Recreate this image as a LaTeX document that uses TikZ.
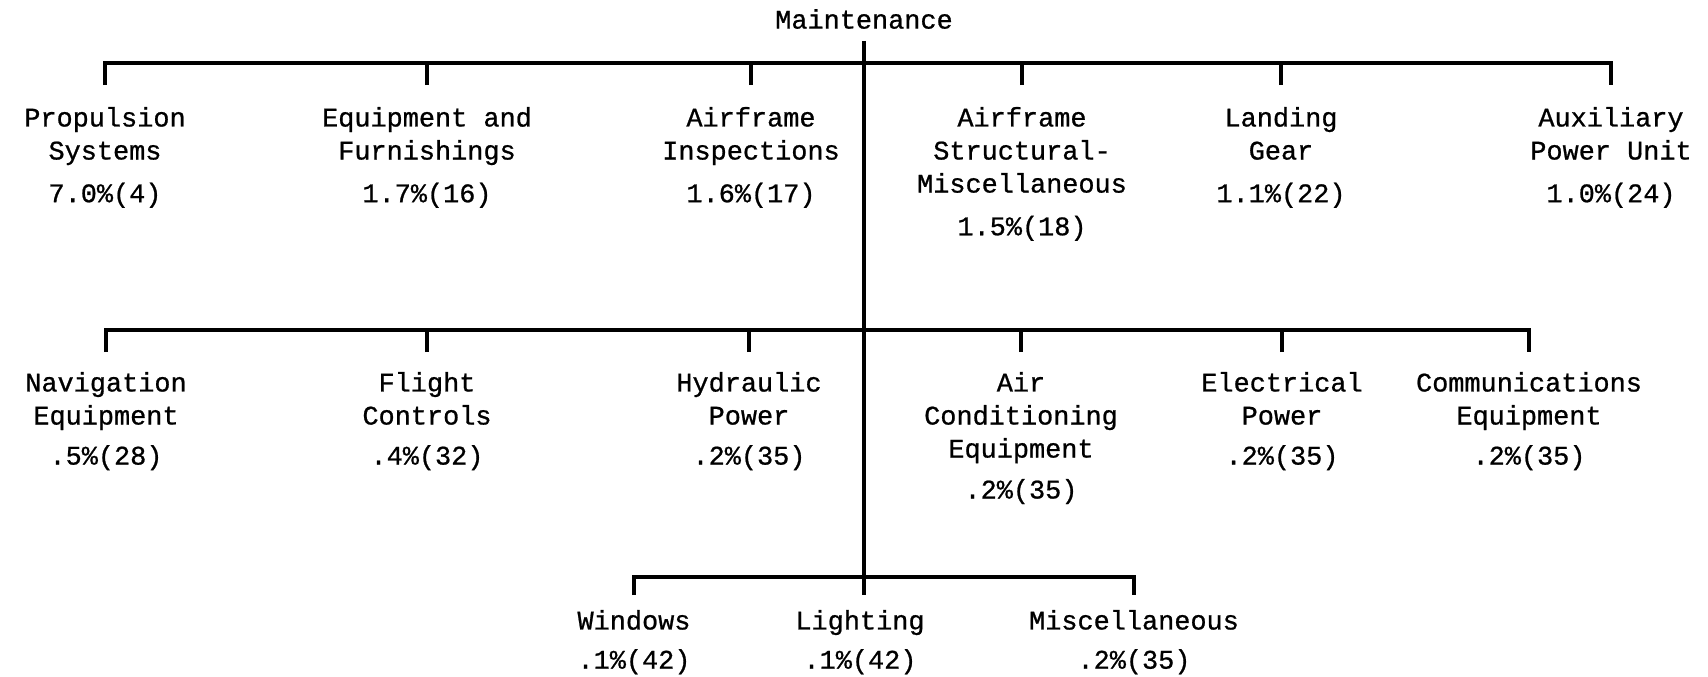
\documentclass[tikz,border=0pt]{standalone}
\usepackage{fontspec}
\setmonofont{Liberation Mono}[FakeBold=0.8]
\usetikzlibrary{positioning}
\tikzset{
  % tree lines
  tree/.style={line width=2.6pt, line cap=butt, line join=miter},
  % category labels
  cat/.style={align=center, inner sep=0pt, anchor=north,
    font=\ttfamily\fontsize{15.3}{18.8}\selectfont},
  % rows, hanging from the tick ends
  rowa/.style={cat, outer ysep=4.4mm},
  rowb/.style={cat, outer ysep=4mm},
  rowc/.style={cat, outer ysep=3mm},
}

\begin{document}
\begin{tikzpicture}[x=0.2mm, y=-0.2mm]
  \useasboundingbox (0,0) rectangle (1708,676);

  \node[cat, anchor=center, outer ysep=2.4mm] (root) at (864,19) {Maintenance};

  % bars
  \coordinate (bara) at (864,63);
  \coordinate (barb) at (864,330);
  \coordinate (barc) at (864,577);

  % first row
  \node[rowa] (prop) at (105,85) {Propulsion\\Systems\\[5.5pt]7.0\%(4)};
  \node[rowa] (equip) at (427,85) {Equipment and\\Furnishings\\[5.5pt]1.7\%(16)};
  \node[rowa] (insp) at (751,85) {Airframe\\Inspections\\[5.5pt]1.6\%(17)};
  \node[rowa] (struct) at (1022,85) {Airframe\\Structural-\\Miscellaneous\\[5.5pt]1.5\%(18)};
  \node[rowa] (gear) at (1281,85) {Landing\\Gear\\[5.5pt]1.1\%(22)};
  \node[rowa] (apu) at (1611,85) {Auxiliary\\Power Unit\\[5.5pt]1.0\%(24)};

  % second row
  \node[rowb] (nav) at (106,352) {Navigation\\Equipment\\[4pt].5\%(28)};
  \node[rowb] (flight) at (427,352) {Flight\\Controls\\[4pt].4\%(32)};
  \node[rowb] (hyd) at (749,352) {Hydraulic\\Power\\[4pt].2\%(35)};
  \node[rowb] (aircon) at (1021,352) {Air\\Conditioning\\Equipment\\[4.5pt].2\%(35)};
  \node[rowb] (elec) at (1282,352) {Electrical\\Power\\[4pt].2\%(35)};
  \node[rowb] (comm) at (1529,352) {Communications\\Equipment\\[4pt].2\%(35)};

  % third row
  \node[rowc] (win) at (634,595) {Windows\\[3.5pt].1\%(42)};
  \node[rowc] (light) at (860,595) {Lighting\\[3.5pt].1\%(42)};
  \node[rowc] (misc) at (1134,595) {Miscellaneous\\[3.5pt].2\%(35)};

  % trunk
  \draw[tree] (root.south) -- (root.south |- light.north);

  % branches
  \draw[tree] (prop.north) |- (bara) -| (apu.north);
  \foreach \n in {equip,insp,struct,gear}
    \draw[tree] (\n.north) -- (\n.north |- bara);

  \draw[tree] (nav.north) |- (barb) -| (comm.north);
  \foreach \n in {flight,hyd,aircon,elec}
    \draw[tree] (\n.north) -- (\n.north |- barb);

  \draw[tree] (win.north) |- (barc) -| (misc.north);
\end{tikzpicture}
\end{document}
